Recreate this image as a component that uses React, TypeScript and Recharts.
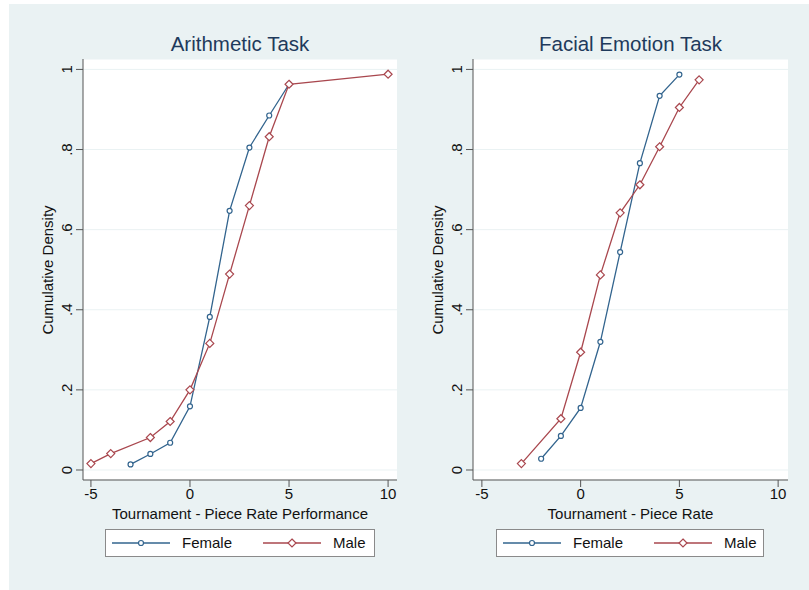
import React from 'react';
import { LineChart, Line, XAxis, YAxis, CartesianGrid } from 'recharts';

// ---- Data ----
const arithFemaleX = [-3, -2, -1, 0, 1, 2, 3, 4, 5];
const arithFemaleY = [0.014, 0.040, 0.068, 0.159, 0.382, 0.647, 0.805, 0.885, 0.963];
const arithMaleX = [-5, -4, -2, -1, 0, 1, 2, 3, 4, 5, 10];
const arithMaleY = [0.016, 0.041, 0.081, 0.121, 0.200, 0.316, 0.489, 0.660, 0.832, 0.963, 0.988];

const faceFemaleX = [-2, -1, 0, 1, 2, 3, 4, 5];
const faceFemaleY = [0.028, 0.085, 0.155, 0.320, 0.544, 0.766, 0.934, 0.987];
const faceMaleX = [-3, -1, 0, 1, 2, 3, 4, 5, 6];
const faceMaleY = [0.016, 0.128, 0.294, 0.487, 0.642, 0.712, 0.807, 0.905, 0.974];

const xTicks = [-5, 0, 5, 10];
const yTicks = [0, 0.2, 0.4, 0.6, 0.8, 1];
const seriesNames = ['Female', 'Male'];
const titles = ['Arithmetic Task', 'Facial Emotion Task'];
const xLabels = ['Tournament - Piece Rate Performance', 'Tournament - Piece Rate'];
const yLabel = 'Cumulative Density';

const zip = (xs: number[], ys: number[]) => xs.map((x, i) => ({ x, y: ys[i] }));

// ---- Style ----
const FONT = '"Liberation Sans", Arial, Helvetica, sans-serif';
const BLUE = '#32648e';
const RED = '#a9474e';
const BG = '#eaf2f3';
const AXIS = '#555';
const TXT = '#111';

const fmtY = (v: number) => {
  if (v === 0) return '0';
  if (v === 1) return '1';
  return v.toFixed(1).replace(/^0/, '');
};

const YTick = (props: any) => {
  const { x, y, payload } = props;
  return (
    <text
      x={x}
      y={y}
      transform={`rotate(-90 ${x} ${y})`}
      textAnchor="middle"
      fontSize={15}
      fill={TXT}
      fontFamily={FONT}
    >
      {fmtY(payload.value)}
    </text>
  );
};

const Diamond = (props: any) => {
  const { cx, cy, index } = props;
  if (cx == null || cy == null) return <g key={`dm-${index}`} />;
  const s = 4;
  return (
    <path
      key={`dm-${index}`}
      d={`M${cx},${cy - s} L${cx + s},${cy} L${cx},${cy + s} L${cx - s},${cy} Z`}
      fill="#fff"
      stroke={RED}
      strokeWidth={1.2}
    />
  );
};

const LegendBox = ({ left, top, width }: { left: number; top: number; width: number }) => (
  <div
    style={{
      position: 'absolute',
      left,
      top,
      width,
      height: 28,
      boxSizing: 'border-box',
      border: '1px solid #8a8a8a',
      background: '#fff',
      fontFamily: FONT,
      fontSize: 15,
      color: TXT,
    }}
  >
    <svg style={{ position: 'absolute', left: 6, top: 0 }} width={60} height={26}>
      <line x1={0} y1={13} x2={58} y2={13} stroke={BLUE} strokeWidth={1.3} />
      <circle cx={29} cy={13} r={2.5} fill="#fff" stroke={BLUE} strokeWidth={1.2} />
    </svg>
    <span style={{ position: 'absolute', left: 76, top: 4 }}>{seriesNames[0]}</span>
    <svg style={{ position: 'absolute', left: 157, top: 0 }} width={60} height={26}>
      <line x1={0} y1={13} x2={58} y2={13} stroke={RED} strokeWidth={1.3} />
      <path d="M29,9 L33,13 L29,17 L25,13 Z" fill="#fff" stroke={RED} strokeWidth={1.2} />
    </svg>
    <span style={{ position: 'absolute', left: 227, top: 4 }}>{seriesNames[1]}</span>
  </div>
);

type PanelProps = {
  chartLeft: number;
  chartWidth: number;
  marginLeft: number;
  marginRight: number;
  xDomain: [number, number];
  female: { x: number; y: number }[];
  male: { x: number; y: number }[];
  title: string;
  xLabel: string;
  plotLeft: number;
  plotRight: number;
  legendLeft: number;
  legendWidth: number;
};

const Panel = (p: PanelProps) => {
  const cx = (p.plotLeft + p.plotRight) / 2;
  return (
    <>
      <div style={{ position: 'absolute', left: p.chartLeft, top: 0 }}>
        <LineChart
          width={p.chartWidth}
          height={590}
          margin={{ top: 59, right: p.marginRight, bottom: 80, left: p.marginLeft }}
        >
          <CartesianGrid
            horizontal={true}
            vertical={false}
            fill="#ffffff"
            stroke={BG}
            strokeWidth={1}
          />
          <XAxis
            type="number"
            dataKey="x"
            domain={p.xDomain}
            ticks={xTicks}
            allowDataOverflow
            height={30}
            tickSize={7}
            tickMargin={1}
            stroke={AXIS}
            tick={{ fontSize: 15, fill: TXT, fontFamily: FONT }}
            interval={0}
          />
          <YAxis
            type="number"
            dataKey="y"
            domain={[-0.025, 1.026]}
            ticks={yTicks}
            allowDataOverflow
            width={60}
            tickSize={7}
            tickMargin={4}
            stroke={AXIS}
            tick={<YTick />}
            interval={0}
          />
          <Line
            data={p.female}
            dataKey="y"
            type="linear"
            stroke={BLUE}
            strokeWidth={1.3}
            dot={{ r: 2.5, fill: '#fff', stroke: BLUE, strokeWidth: 1.2 }}
            activeDot={false}
            isAnimationActive={false}
          />
          <Line
            data={p.male}
            dataKey="y"
            type="linear"
            stroke={RED}
            strokeWidth={1.3}
            dot={(props: any) => <Diamond {...props} />}
            activeDot={false}
            isAnimationActive={false}
          />
        </LineChart>
      </div>
      <div
        style={{
          position: 'absolute',
          left: cx,
          top: 44,
          transform: 'translate(-50%, -50%)',
          whiteSpace: 'nowrap',
          fontFamily: FONT,
          fontSize: 20.5,
          color: '#1e3a5c',
        }}
      >
        {p.title}
      </div>
      <div
        style={{
          position: 'absolute',
          left: cx,
          top: 513,
          transform: 'translate(-50%, -50%)',
          whiteSpace: 'nowrap',
          fontFamily: FONT,
          fontSize: 15,
          color: TXT,
        }}
      >
        {p.xLabel}
      </div>
      <div
        style={{
          position: 'absolute',
          left: p.plotLeft - 36,
          top: 270,
          transform: 'translate(-50%, -50%) rotate(-90deg)',
          whiteSpace: 'nowrap',
          fontFamily: FONT,
          fontSize: 15,
          color: TXT,
        }}
      >
        {yLabel}
      </div>
      <LegendBox left={p.legendLeft} top={529} width={p.legendWidth} />
    </>
  );
};

export default function App() {
  return (
    <div
      style={{
        position: 'absolute',
        left: 0,
        top: 0,
        width: 809,
        height: 590,
        background: '#fff',
        overflow: 'hidden',
      }}
    >
      <div style={{ position: 'absolute', left: 9, top: 4, width: 800, height: 586, background: BG }} />
      <Panel
        chartLeft={0}
        chartWidth={405}
        marginLeft={23}
        marginRight={8}
        xDomain={[-5.4, 10.45]}
        female={zip(arithFemaleX, arithFemaleY)}
        male={zip(arithMaleX, arithMaleY)}
        title={titles[0]}
        xLabel={xLabels[0]}
        plotLeft={83}
        plotRight={397}
        legendLeft={105}
        legendWidth={270}
      />
      <Panel
        chartLeft={390}
        chartWidth={419}
        marginLeft={23}
        marginRight={21}
        xDomain={[-5.45, 10.5]}
        female={zip(faceFemaleX, faceFemaleY)}
        male={zip(faceMaleX, faceMaleY)}
        title={titles[1]}
        xLabel={xLabels[1]}
        plotLeft={473}
        plotRight={788}
        legendLeft={496}
        legendWidth={268}
      />
    </div>
  );
}
